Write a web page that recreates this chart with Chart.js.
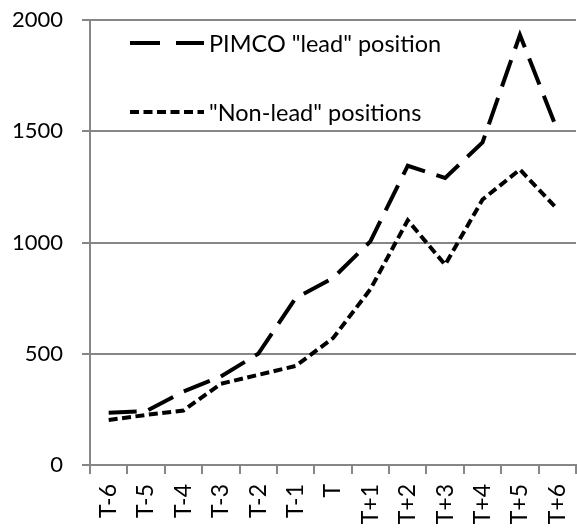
<!DOCTYPE html>
<html>
<head>
<meta charset="utf-8">
<script src="https://cdn.jsdelivr.net/npm/chart.js@4"></script>
<style>
  html, body { margin: 0; padding: 0; background: #fff; }
  #wrap { position: relative; width: 577px; height: 529px; }
  .leg { position: absolute; left: 130px; font-family: Lato, "Liberation Sans", sans-serif; font-size: 23.5px; color: #000; white-space: nowrap; display: flex; align-items: center; }
  .leg svg { margin-right: 5px; }
</style>
</head>
<body>
<div id="wrap">
  <canvas id="chart" width="577" height="529"></canvas>
  <div class="leg" style="top:29px">
    <svg width="74" height="6"><line x1="0" y1="3" x2="74" y2="3" stroke="#000" stroke-width="4" stroke-dasharray="30 16"/></svg>
    <span id="leg0"></span>
  </div>
  <div class="leg" style="top:98px">
    <svg width="74" height="6"><line x1="0" y1="3" x2="74" y2="3" stroke="#000" stroke-width="4" stroke-dasharray="9 4.5"/></svg>
    <span id="leg1"></span>
  </div>
</div>
<script>
// Data
const labels = ['T-6', 'T-5', 'T-4', 'T-3', 'T-2', 'T-1', 'T', 'T+1', 'T+2', 'T+3', 'T+4', 'T+5', 'T+6'];
const leadValues = [235, 242, 330, 398, 500, 750, 840, 1005, 1345, 1290, 1450, 1933, 1505];
const nonLeadValues = [202, 225, 245, 365, 405, 445, 570, 790, 1100, 900, 1193, 1328, 1150];
const seriesNames = ['PIMCO "lead" position', '"Non-lead" positions'];
const yTicks = [0, 500, 1000, 1500, 2000];

document.getElementById('leg0').textContent = seriesNames[0];
document.getElementById('leg1').textContent = seriesNames[1];

const gridGray = '#868686';
const fontFamily = 'Lato, "Liberation Sans", sans-serif';

const ctx = document.getElementById('chart').getContext('2d');
const chart = new Chart(ctx, {
  type: 'line',
  data: {
    labels: labels,
    datasets: [{
      label: seriesNames[0],
      data: leadValues,
      borderColor: '#000',
      borderWidth: 4,
      borderDash: [28, 12],
      pointRadius: 0,
      fill: false,
      tension: 0
    }, {
      label: seriesNames[1],
      data: nonLeadValues,
      borderColor: '#000',
      borderWidth: 4,
      borderDash: [9, 4.5],
      pointRadius: 0,
      fill: false,
      tension: 0
    }]
  },
  options: {
    responsive: false,
    animation: false,
    layout: { padding: { top: 20, right: 1, left: 0, bottom: 0 } },
    plugins: {
      legend: { display: false },
      tooltip: { enabled: false }
    },
    scales: {
      x: {
        offset: true,
        grid: {
          offset: true,
          drawOnChartArea: false,
          drawTicks: true,
          tickLength: 9,
          color: gridGray,
          lineWidth: 2
        },
        border: { display: true, color: gridGray, width: 2 },
        ticks: {
          autoSkip: false,
          minRotation: 90,
          maxRotation: 90,
          padding: 10,
          color: '#000',
          font: { family: fontFamily, size: 23 }
        },
        afterFit: (scale) => {
          scale.height = 64;
          scale.paddingLeft = 0;
          scale.paddingRight = 0;
        }
      },
      y: {
        min: 0,
        max: 2000,
        afterBuildTicks: (scale) => { scale.ticks = yTicks.map(v => ({ value: v })); },
        grid: {
          drawTicks: true,
          tickLength: 8,
          color: gridGray,
          lineWidth: 2
        },
        border: { display: true, color: gridGray, width: 2 },
        ticks: {
          padding: 19,
          color: '#000',
          font: { family: fontFamily, size: 22 },
          callback: (v) => String(v)
        },
        afterFit: (scale) => {
          scale.width = 90;
          scale.paddingTop = 0;
          scale.paddingBottom = 0;
        }
      }
    }
  }
});
</script>
</body>
</html>
